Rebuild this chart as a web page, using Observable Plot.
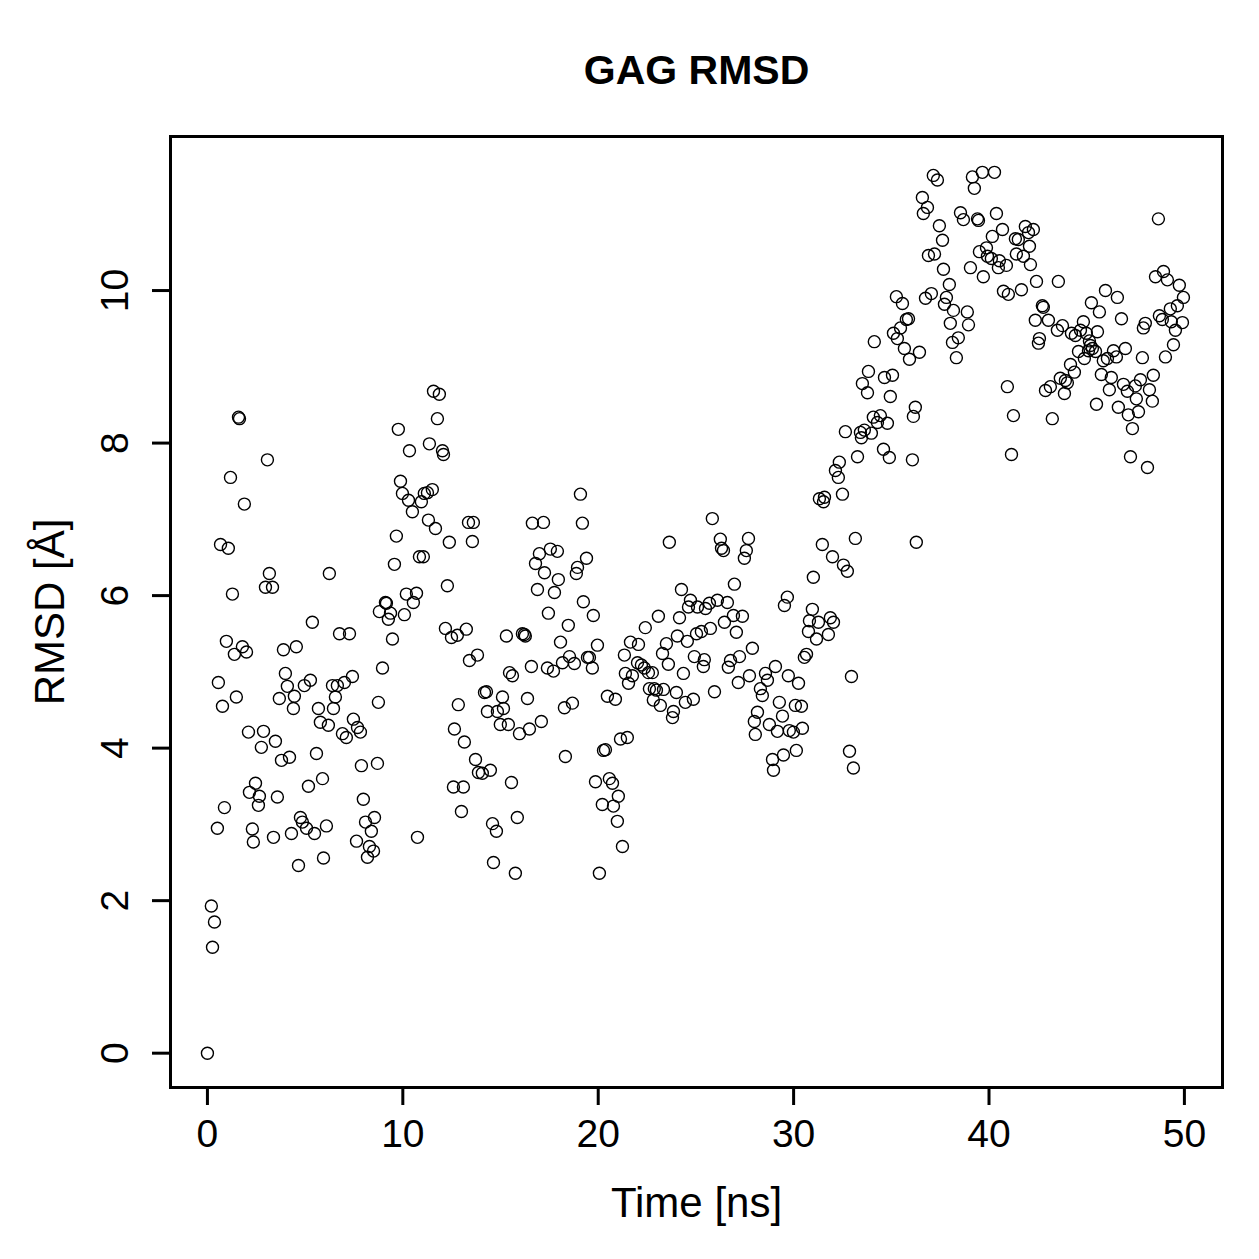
<!DOCTYPE html>
<html>
<head>
<meta charset="utf-8">
<script src="https://cdn.jsdelivr.net/npm/d3@7"></script>
<script src="https://cdn.jsdelivr.net/npm/@observablehq/plot@0.6"></script>
<style>
  html, body { margin: 0; padding: 0; background: #fff; }
</style>
</head>
<body>
<div id="chart"></div>
<script>
// GAG RMSD trajectory: time (ns) and RMSD (Å) per frame
const time = [
  0.00, 0.20, 0.26, 0.36, 0.51, 0.56, 0.67, 0.77, 0.87, 0.97,
  1.07, 1.18, 1.28, 1.38, 1.48, 1.59, 1.64, 1.79, 1.89, 2.00,
  2.10, 2.15, 2.30, 2.35, 2.46, 2.61, 2.66, 2.76, 2.87, 2.97,
  3.07, 3.17, 3.33, 3.38, 3.48, 3.58, 3.68, 3.79, 3.89, 3.99,
  4.09, 4.20, 4.30, 4.40, 4.45, 4.55, 4.66, 4.76, 4.86, 4.96,
  5.07, 5.17, 5.27, 5.37, 5.48, 5.58, 5.68, 5.78, 5.89, 5.94,
  6.09, 6.19, 6.24, 6.40, 6.45, 6.55, 6.65, 6.76, 6.91, 7.01,
  7.11, 7.27, 7.42, 7.47, 7.63, 7.68, 7.83, 7.88, 7.98, 8.09,
  8.19, 8.29, 8.39, 8.50, 8.55, 8.70, 8.75, 8.80, 8.96, 9.11,
  9.16, 9.26, 9.37, 9.47, 9.57, 9.67, 9.77, 9.88, 9.98, 10.08,
  10.18, 10.29, 10.34, 10.49, 10.54, 10.70, 10.75, 10.85, 10.95, 11.05,
  11.10, 11.26, 11.31, 11.36, 11.51, 11.57, 11.67, 11.77, 11.87, 12.03,
  12.08, 12.18, 12.28, 12.38, 12.49, 12.59, 12.64, 12.79, 12.84, 13.00,
  13.10, 13.15, 13.25, 13.36, 13.41, 13.56, 13.61, 13.72, 13.82, 13.87,
  14.07, 14.18, 14.28, 14.33, 14.48, 14.59, 14.64, 14.79, 14.84, 14.99,
  15.10, 15.15, 15.30, 15.40, 15.46, 15.56, 15.61, 15.76, 15.86, 15.97,
  16.12, 16.22, 16.27, 16.38, 16.48, 16.58, 16.63, 16.79, 16.89, 16.99,
  17.09, 17.20, 17.25, 17.40, 17.45, 17.55, 17.71, 17.76, 17.91, 17.96,
  18.07, 18.17, 18.27, 18.32, 18.47, 18.53, 18.68, 18.78, 18.88, 18.94,
  19.09, 19.19, 19.24, 19.40, 19.45, 19.55, 19.70, 19.75, 19.86, 19.96,
  20.06, 20.21, 20.27, 20.37, 20.47, 20.57, 20.73, 20.78, 20.88, 20.98,
  21.03, 21.14, 21.24, 21.34, 21.39, 21.49, 21.55, 21.65, 21.75, 22.01,
  22.06, 22.21, 22.36, 22.41, 22.57, 22.62, 22.77, 22.82, 22.87, 22.98,
  23.08, 23.18, 23.29, 23.34, 23.49, 23.59, 23.64, 23.80, 23.85, 24.00,
  24.05, 24.16, 24.26, 24.36, 24.46, 24.56, 24.62, 24.72, 24.87, 24.92,
  25.03, 25.08, 25.28, 25.38, 25.43, 25.49, 25.69, 25.74, 25.84, 25.95,
  26.10, 26.25, 26.31, 26.41, 26.46, 26.61, 26.66, 26.77, 26.92, 26.97,
  27.07, 27.17, 27.23, 27.38, 27.48, 27.58, 27.69, 27.74, 27.89, 27.99,
  28.04, 28.15, 28.30, 28.40, 28.56, 28.66, 28.76, 28.92, 28.97, 29.07,
  29.17, 29.27, 29.43, 29.48, 29.53, 29.68, 29.73, 29.78, 29.99, 30.09,
  30.14, 30.25, 30.40, 30.45, 30.55, 30.66, 30.76, 30.81, 30.96, 31.01,
  31.17, 31.27, 31.32, 31.47, 31.53, 31.58, 31.78, 31.88, 31.99, 32.04,
  32.14, 32.29, 32.34, 32.50, 32.55, 32.65, 32.75, 32.86, 32.96, 33.06,
  33.16, 33.27, 33.42, 33.47, 33.52, 33.62, 33.78, 33.83, 33.98, 34.08,
  34.13, 34.29, 34.44, 34.60, 34.65, 34.80, 34.90, 34.95, 35.06, 35.11,
  35.26, 35.31, 35.47, 35.57, 35.67, 35.77, 35.88, 35.93, 36.08, 36.13,
  36.23, 36.28, 36.44, 36.59, 36.64, 36.75, 36.85, 36.90, 37.05, 37.15,
  37.21, 37.36, 37.46, 37.62, 37.67, 37.72, 37.82, 37.97, 38.02, 38.13,
  38.18, 38.33, 38.43, 38.54, 38.69, 38.89, 38.95, 39.05, 39.15, 39.25,
  39.41, 39.46, 39.51, 39.66, 39.71, 39.87, 39.92, 40.12, 40.17, 40.28,
  40.38, 40.48, 40.53, 40.69, 40.74, 40.89, 40.94, 40.99, 41.15, 41.25,
  41.35, 41.40, 41.50, 41.66, 41.76, 41.86, 42.02, 42.07, 42.12, 42.27,
  42.37, 42.43, 42.53, 42.58, 42.73, 42.78, 42.89, 43.04, 43.14, 43.24,
  43.50, 43.55, 43.65, 43.76, 43.86, 43.91, 44.01, 44.17, 44.22, 44.37,
  44.42, 44.58, 44.68, 44.83, 44.88, 44.98, 45.09, 45.14, 45.19, 45.24,
  45.29, 45.45, 45.50, 45.55, 45.65, 45.75, 45.85, 45.96, 46.06, 46.16,
  46.26, 46.37, 46.52, 46.57, 46.62, 46.78, 46.88, 46.98, 47.08, 47.13,
  47.24, 47.34, 47.49, 47.54, 47.65, 47.75, 47.85, 47.90, 48.00, 48.11,
  48.21, 48.36, 48.41, 48.52, 48.67, 48.72, 48.87, 48.93, 49.03, 49.13,
  49.28, 49.33, 49.44, 49.54, 49.64, 49.74, 49.90, 49.95
];

const rmsd = [
  0.00, 1.93, 1.39, 1.72, 2.95, 4.86, 6.67, 4.55, 3.22, 5.40,
  6.62, 7.55, 6.02, 5.23, 4.67, 8.34, 8.32, 5.33, 7.20, 5.26,
  4.21, 3.42, 2.94, 2.77, 3.54, 3.25, 3.37, 4.01, 4.22, 6.11,
  7.78, 6.29, 6.11, 2.83, 4.09, 3.36, 4.65, 3.84, 5.29, 4.98,
  4.81, 3.88, 2.88, 4.52, 4.68, 5.33, 2.46, 3.09, 3.03, 4.82,
  2.95, 3.50, 4.89, 5.65, 2.88, 3.93, 4.52, 4.34, 3.60, 2.56,
  2.98, 4.30, 6.29, 4.82, 4.52, 4.67, 4.82, 5.50, 4.19, 4.86,
  4.14, 5.50, 4.94, 4.38, 2.78, 4.27, 4.21, 3.77, 3.33, 3.03,
  2.57, 2.71, 2.91, 2.65, 3.09, 3.80, 4.60, 5.79, 5.05, 5.91,
  5.90, 5.69, 5.77, 5.43, 6.41, 6.78, 8.18, 7.50, 7.34, 5.75,
  6.02, 7.25, 7.90, 7.10, 5.91, 6.03, 2.83, 6.51, 7.23, 6.51,
  7.34, 7.35, 6.99, 7.99, 7.39, 8.68, 6.88, 8.32, 8.64, 7.90,
  7.85, 5.57, 6.13, 6.70, 5.45, 3.49, 4.25, 5.48, 4.57, 3.17,
  3.49, 4.08, 5.56, 6.96, 5.15, 6.71, 6.96, 3.85, 5.22, 3.68,
  3.67, 4.73, 4.74, 4.48, 3.71, 3.01, 2.50, 2.91, 4.48, 4.31,
  4.67, 4.52, 5.47, 4.31, 4.99, 3.55, 4.95, 2.36, 3.09, 4.19,
  5.50, 5.49, 5.47, 4.65, 4.25, 5.07, 6.95, 6.42, 6.08, 6.55,
  4.35, 6.96, 6.30, 5.05, 5.77, 6.61, 5.01, 6.04, 6.58, 6.21,
  5.39, 5.12, 4.53, 3.89, 5.61, 5.20, 4.59, 5.11, 6.29, 6.37,
  7.33, 6.95, 5.92, 6.49, 5.19, 5.19, 5.05, 5.74, 3.56, 5.35,
  2.36, 3.26, 3.97, 3.98, 4.68, 3.60, 3.54, 3.24, 4.64, 3.04,
  3.37, 4.12, 2.71, 5.22, 4.98, 4.14, 4.85, 5.39, 4.95, 5.12,
  5.36, 5.09, 5.05, 5.58, 4.99, 4.78, 4.99, 4.63, 4.78, 4.76,
  5.73, 4.56, 5.24, 4.77, 5.37, 5.10, 6.70, 4.40, 4.48, 4.73,
  5.47, 5.71, 6.08, 4.98, 4.60, 5.40, 5.85, 5.94, 4.64, 5.20,
  5.50, 5.85, 5.53, 5.07, 5.16, 5.83, 5.90, 5.57, 7.01, 4.74,
  5.94, 6.74, 6.62, 6.59, 5.65, 5.91, 5.06, 5.15, 5.74, 6.15,
  5.52, 4.86, 5.20, 5.73, 6.49, 6.59, 6.75, 4.95, 5.31, 4.35,
  4.18, 4.47, 4.78, 4.69, 4.98, 4.89, 4.31, 3.85, 3.71, 5.07,
  4.22, 4.60, 4.42, 3.91, 5.87, 5.98, 4.95, 4.23, 4.21, 4.56,
  3.97, 4.85, 4.55, 4.26, 5.19, 5.23, 5.53, 5.67, 5.82, 6.24,
  5.43, 5.65, 7.27, 6.67, 7.23, 7.29, 5.49, 5.71, 6.51, 5.65,
  7.64, 7.55, 7.75, 7.33, 6.40, 8.15, 6.32, 3.96, 4.94, 3.74,
  6.75, 7.82, 8.14, 8.07, 8.78, 8.17, 8.66, 8.94, 8.13, 8.34,
  9.33, 8.27, 8.36, 7.92, 8.86, 8.26, 7.81, 8.61, 8.89, 9.44,
  9.92, 9.37, 9.51, 9.83, 9.24, 9.62, 9.63, 9.10, 7.78, 8.35,
  8.47, 6.70, 9.19, 11.22, 11.01, 9.90, 11.09, 10.46, 9.96, 11.51,
  10.48, 11.45, 10.85, 10.66, 10.28, 9.82, 9.91, 10.08, 9.57, 9.32,
  9.74, 9.12, 9.38, 11.02, 10.93, 9.72, 9.55, 10.30, 11.49, 11.34,
  10.94, 10.92, 10.51, 11.55, 10.18, 10.56, 10.45, 10.42, 10.71, 11.55,
  11.01, 10.30, 10.39, 10.80, 9.99, 10.33, 8.74, 9.95, 7.85, 8.36,
  10.68, 10.48, 10.67, 10.01, 10.45, 10.84, 10.76, 10.58, 10.34, 10.80,
  9.61, 10.12, 9.31, 9.37, 9.80, 9.78, 8.69, 9.61, 8.74, 8.32,
  9.48, 10.12, 8.85, 9.54, 8.65, 8.82, 8.79, 9.03, 9.44, 8.93,
  9.41, 9.20, 9.48, 9.59, 9.11, 9.44, 9.21, 9.34, 9.28, 9.84,
  9.24, 9.20, 8.51, 9.46, 9.72, 8.90, 9.08, 10.00, 9.11, 8.70,
  8.86, 9.21, 9.13, 9.91, 8.47, 9.63, 8.77, 9.24, 8.68, 8.37,
  7.82, 8.19, 8.75, 8.58, 8.41, 8.83, 9.12, 9.51, 9.57, 7.68,
  8.70, 8.55, 8.89, 10.18, 10.94, 9.67, 9.62, 10.25, 9.13, 10.14,
  9.76, 9.59, 9.29, 9.48, 9.80, 10.07, 9.58, 9.91
];

const xTicks = [0, 10, 20, 30, 40, 50];
const yTicks = [0, 2, 4, 6, 8, 10];
const titleText = "GAG RMSD";
const xLabel = "Time [ns]";
const yLabel = "RMSD [Å]";

const frames = time.map((t, i) => ({t, r: rmsd[i]}));

const font = "'Liberation Sans', Arial, Helvetica, sans-serif";

const chart = Plot.plot({
  width: 1259,
  height: 1259,
  marginLeft: 170,
  marginRight: 37,
  marginTop: 136,
  marginBottom: 172,
  style: {fontFamily: font, background: "#fff", color: "#000"},
  x: {domain: [-1.89, 51.95], axis: null},
  y: {domain: [-0.45, 12.02], axis: null},
  marks: [
    // open circles, one per frame
    Plot.dot(frames, {x: "t", y: "r", r: 6, stroke: "#000", strokeWidth: 1.4, fill: "none"}),
    // tick marks outside the box
    Plot.axisX({ticks: xTicks, tickSize: 18, tickFormat: () => "", strokeWidth: 3, label: null}),
    Plot.axisY({ticks: yTicks, tickSize: 18, tickFormat: () => "", strokeWidth: 3, label: null}),
    // tick labels
    Plot.text(xTicks, {x: d => d, frameAnchor: "bottom", dy: 47, lineAnchor: "middle",
      textAnchor: "middle", text: d => String(d), fontSize: 39, fill: "#000"}),
    Plot.text(yTicks, {y: d => d, frameAnchor: "left", dx: -55, rotate: -90, lineAnchor: "middle",
      textAnchor: "middle", text: d => String(d), fontSize: 39, fill: "#000"}),
    // axis titles
    Plot.text([xLabel], {frameAnchor: "bottom", dy: 116, lineAnchor: "middle",
      textAnchor: "middle", text: d => d, fontSize: 42, fill: "#000"}),
    Plot.text([yLabel], {frameAnchor: "left", dx: -120, rotate: -90, lineAnchor: "middle",
      textAnchor: "middle", text: d => d, fontSize: 42, fill: "#000"}),
    // main title
    Plot.text([titleText], {frameAnchor: "top", dy: -66, lineAnchor: "middle",
      textAnchor: "middle", text: d => d, fontSize: 41, fontWeight: "bold", fill: "#000"}),
    Plot.frame({stroke: "#000", strokeWidth: 3})
  ]
});

document.getElementById("chart").appendChild(chart);
</script>
</body>
</html>
